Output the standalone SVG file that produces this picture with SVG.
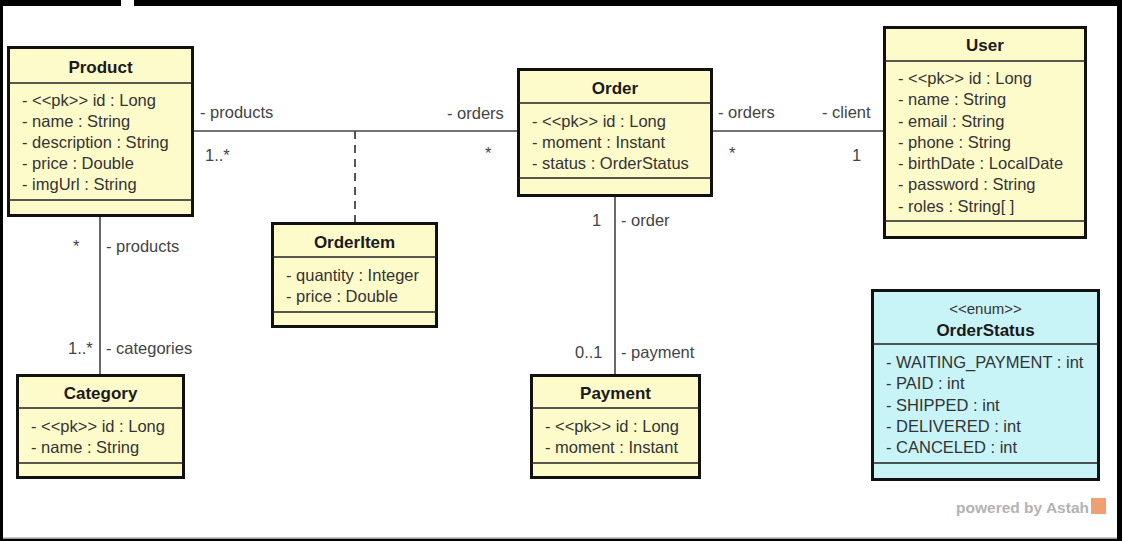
<svg xmlns="http://www.w3.org/2000/svg" width="1122" height="541" viewBox="0 0 1122 541">
  <style>
    .box { fill: #fefbcb; stroke: #111; stroke-width: 3; }
    .enum { fill: #c8f4f8; stroke: #111; stroke-width: 3; }
    .sep { stroke: #222; stroke-width: 1.5; }
    .title { font-family: "Liberation Sans", Arial, sans-serif; font-size: 17px; font-weight: bold; fill: #1a1a1a; text-anchor: middle; }
    .attr { font-family: "Liberation Sans", Arial, sans-serif; font-size: 16.5px; fill: #333; }
    .stereo { font-family: "Liberation Sans", Arial, sans-serif; font-size: 15px; fill: #333; text-anchor: middle; }
    .lbl { font-family: "Liberation Sans", Arial, sans-serif; font-size: 16.5px; fill: #444; }
    .line { stroke: #444; stroke-width: 1.6; fill: none; }
    .dash { stroke: #444; stroke-width: 1.8; fill: none; stroke-dasharray: 8 6; }
  </style>

  <!-- page background and frame -->
  <rect x="0" y="0" width="1122" height="541" fill="#ffffff"/>
  <g id="frame" fill="#000">
    <rect x="0" y="0" width="121" height="6"/>
    <rect x="134" y="0" width="988" height="6"/>
    <rect x="0" y="0" width="3" height="541"/>
    <rect x="1117" y="0" width="5" height="541"/>
    <rect x="0" y="539" width="1122" height="2"/>
    <rect x="3" y="537.5" width="1114" height="1.5" fill="#999"/>
  </g>

  <!-- associations -->
  <g id="connectors">
    <line class="line" x1="192" y1="131" x2="518" y2="131"/>
    <line class="dash" x1="355" y1="131" x2="355" y2="223"/>
    <line class="line" x1="712" y1="131" x2="884" y2="131"/>
    <line class="line" x1="615" y1="196" x2="615" y2="375"/>
    <line class="line" x1="100" y1="215" x2="100" y2="375"/>

    <text class="lbl" x="200" y="118">- products</text>
    <text class="lbl" x="205" y="161">1..*</text>
    <text class="lbl" x="447" y="119">- orders</text>
    <text class="lbl" x="485" y="159">*</text>

    <text class="lbl" x="718" y="118">- orders</text>
    <text class="lbl" x="729" y="159">*</text>
    <text class="lbl" x="822" y="118">- client</text>
    <text class="lbl" x="852" y="161">1</text>

    <text class="lbl" x="592" y="226">1</text>
    <text class="lbl" x="621" y="226">- order</text>
    <text class="lbl" x="575" y="358">0..1</text>
    <text class="lbl" x="621" y="358">- payment</text>

    <text class="lbl" x="73" y="252">*</text>
    <text class="lbl" x="106" y="252">- products</text>
    <text class="lbl" x="68" y="354">1..*</text>
    <text class="lbl" x="106" y="354">- categories</text>
  </g>

  <!-- Product -->
  <g id="product">
    <rect class="box" x="8.5" y="47.5" width="184" height="168"/>
    <line class="sep" x1="8.5" y1="83" x2="192.5" y2="83"/>
    <line class="sep" x1="8.5" y1="200" x2="192.5" y2="200"/>
    <text class="title" x="100.5" y="73">Product</text>
    <text class="attr" x="22" y="106">- &lt;&lt;pk&gt;&gt; id : Long</text>
    <text class="attr" x="22" y="127">- name : String</text>
    <text class="attr" x="22" y="148">- description : String</text>
    <text class="attr" x="22" y="169">- price : Double</text>
    <text class="attr" x="22" y="190">- imgUrl : String</text>
  </g>

  <!-- Order -->
  <g id="order">
    <rect class="box" x="518.5" y="69.5" width="193" height="126"/>
    <line class="sep" x1="518.5" y1="103" x2="711.5" y2="103"/>
    <line class="sep" x1="518.5" y1="178" x2="711.5" y2="178"/>
    <text class="title" x="615" y="94">Order</text>
    <text class="attr" x="532" y="127">- &lt;&lt;pk&gt;&gt; id : Long</text>
    <text class="attr" x="532" y="148">- moment : Instant</text>
    <text class="attr" x="532" y="169">- status : OrderStatus</text>
  </g>

  <!-- User -->
  <g id="user">
    <rect class="box" x="884.5" y="27.5" width="201" height="210"/>
    <line class="sep" x1="884.5" y1="61" x2="1085.5" y2="61"/>
    <line class="sep" x1="884.5" y1="221" x2="1085.5" y2="221"/>
    <text class="title" x="985" y="51">User</text>
    <text class="attr" x="898" y="84">- &lt;&lt;pk&gt;&gt; id : Long</text>
    <text class="attr" x="898" y="105">- name : String</text>
    <text class="attr" x="898" y="127">- email : String</text>
    <text class="attr" x="898" y="148">- phone : String</text>
    <text class="attr" x="898" y="169">- birthDate : LocalDate</text>
    <text class="attr" x="898" y="190">- password : String</text>
    <text class="attr" x="898" y="212">- roles : String[ ]</text>
  </g>

  <!-- OrderItem (association class) -->
  <g id="orderitem">
    <rect class="box" x="272.5" y="223.5" width="164" height="103"/>
    <line class="sep" x1="272.5" y1="257" x2="436.5" y2="257"/>
    <line class="sep" x1="272.5" y1="312" x2="436.5" y2="312"/>
    <text class="title" x="354.5" y="248">OrderItem</text>
    <text class="attr" x="286" y="281">- quantity : Integer</text>
    <text class="attr" x="286" y="302">- price : Double</text>
  </g>

  <!-- Category -->
  <g id="category">
    <rect class="box" x="17.5" y="375.5" width="166" height="102"/>
    <line class="sep" x1="17.5" y1="408" x2="183.5" y2="408"/>
    <line class="sep" x1="17.5" y1="463" x2="183.5" y2="463"/>
    <text class="title" x="100.5" y="399">Category</text>
    <text class="attr" x="31" y="432">- &lt;&lt;pk&gt;&gt; id : Long</text>
    <text class="attr" x="31" y="453">- name : String</text>
  </g>

  <!-- Payment -->
  <g id="payment">
    <rect class="box" x="531.5" y="375.5" width="168" height="102"/>
    <line class="sep" x1="531.5" y1="408" x2="699.5" y2="408"/>
    <line class="sep" x1="531.5" y1="463" x2="699.5" y2="463"/>
    <text class="title" x="615.5" y="399">Payment</text>
    <text class="attr" x="545" y="432">- &lt;&lt;pk&gt;&gt; id : Long</text>
    <text class="attr" x="545" y="453">- moment : Instant</text>
  </g>

  <!-- OrderStatus enumeration -->
  <g id="orderstatus">
    <rect class="enum" x="872.5" y="290.5" width="226" height="189"/>
    <line class="sep" x1="872.5" y1="344" x2="1098.5" y2="344"/>
    <line class="sep" x1="872.5" y1="463" x2="1098.5" y2="463"/>
    <text class="stereo" x="985.5" y="314">&lt;&lt;enum&gt;&gt;</text>
    <text class="title" x="985.5" y="336">OrderStatus</text>
    <text class="attr" x="886" y="368">- WAITING_PAYMENT : int</text>
    <text class="attr" x="886" y="389">- PAID : int</text>
    <text class="attr" x="886" y="411">- SHIPPED : int</text>
    <text class="attr" x="886" y="432">- DELIVERED : int</text>
    <text class="attr" x="886" y="453">- CANCELED : int</text>
  </g>

  <!-- tool credit -->
  <g id="credit">
    <text x="1089" y="513" font-family="Liberation Sans, Arial, sans-serif" font-size="15.5px" font-weight="bold" fill="#b3b3b3" text-anchor="end">powered by Astah</text>
    <rect x="1091" y="498" width="15" height="16" fill="#f0a070"/>
  </g>
</svg>
